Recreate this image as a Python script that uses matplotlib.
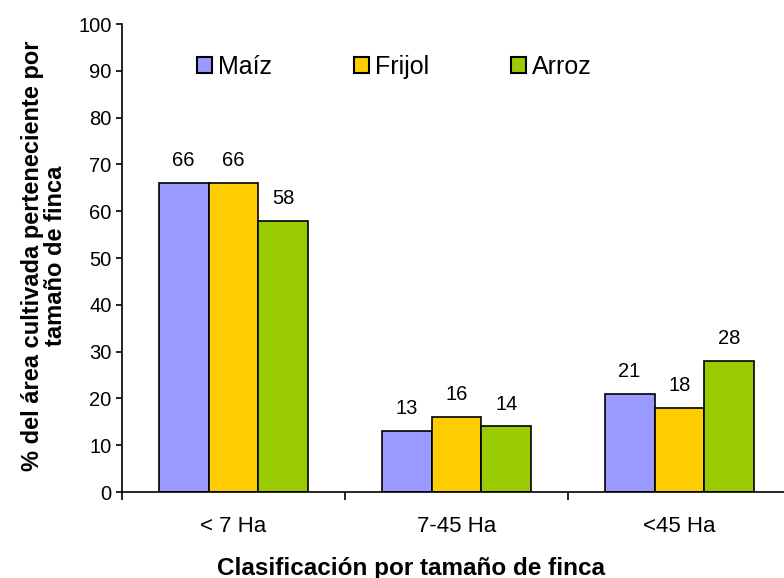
import matplotlib
matplotlib.use("Agg")
import matplotlib.pyplot as plt
import numpy as np
from matplotlib.patches import Patch

categories = ["< 7 Ha", "7-45 Ha", "<45 Ha"]
series_names = ["Maíz", "Frijol", "Arroz"]
maiz = [66, 13, 21]
frijol = [66, 16, 18]
arroz = [58, 14, 28]
colors = ["#9999ff", "#ffcc00", "#99cc00"]

plt.rcParams['font.family'] = ['Liberation Sans', 'DejaVu Sans']

fig = plt.figure(figsize=(7.84, 5.78), dpi=100)
ax = fig.add_axes([122/784, 86/578, 1 - 122/784, 468/578])

x = np.arange(len(categories))
w = 0.224
for i, (vals, c, name) in enumerate(zip([maiz, frijol, arroz], colors, series_names)):
    pos = x + (i - 1) * w
    ax.bar(pos, vals, width=w, color=c, edgecolor="black", linewidth=1.2, label=name)
    for p, v in zip(pos, vals):
        ax.text(p, v + 3.6, str(v), ha="center", va="baseline", fontsize=14.5)

ax.set_ylim(0, 100)
ax.set_xlim(-0.5, -0.5 + (784 - 122) / 223)
ax.set_yticks(range(0, 101, 10))
ax.tick_params(axis='y', labelsize=14.5, direction='out', length=4.5, width=1.2, pad=3)
ax.set_xticks([-0.5, 0.5, 1.5])
ax.set_xticklabels([])
ax.set_xticks(x, minor=True)
ax.set_xticklabels(categories, minor=True)
ax.tick_params(axis='x', which='major', direction='out', length=6, width=1.2)
ax.tick_params(axis='x', which='minor', length=0, labelsize=16, pad=17)

for s in ['top', 'right']:
    ax.spines[s].set_visible(False)
for s in ['left', 'bottom']:
    ax.spines[s].set_linewidth(1.2)

fig.text(44/784, 1 - 256/578, "% del área cultivada perteneciente por\ntamaño de finca",
         rotation=90, ha='center', va='center', fontsize=17, fontweight='bold',
         linespacing=0.95)
fig.text(411/784, 1 - 568/578, "Clasificación por tamaño de finca", ha='center',
         va='center', fontsize=17.5, fontweight='bold')

handles = [Patch(facecolor=c, edgecolor='black', linewidth=1.5) for c in colors]
leg = ax.legend(handles, series_names, loc='center left', bbox_to_anchor=(0.098, 0.908),
                borderaxespad=0, ncol=3, frameon=False, fontsize=18, handlelength=0.6,
                handleheight=0.6, handletextpad=0.24, columnspacing=3.28)

fig.savefig("out.png", dpi=100)
